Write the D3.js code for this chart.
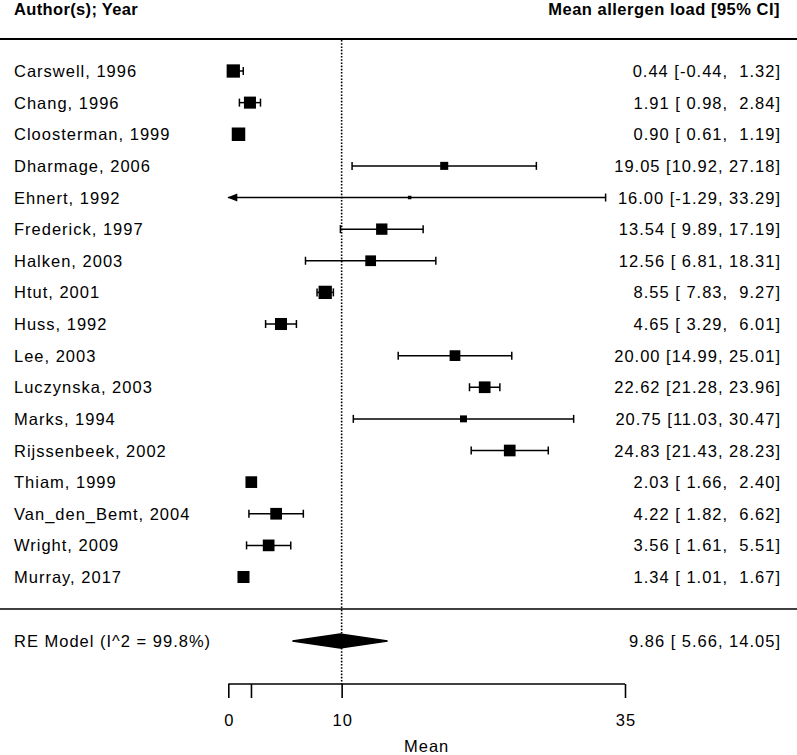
<!DOCTYPE html>
<html><head><meta charset="utf-8">
<script src="https://cdn.jsdelivr.net/npm/d3@7/dist/d3.min.js"></script>
<style>body{margin:0;background:#fff;} svg{display:block;} text{white-space:pre;}</style>
</head><body>
<script>
const studies = ["Carswell, 1996","Chang, 1996","Cloosterman, 1999","Dharmage, 2006","Ehnert, 1992","Frederick, 1997","Halken, 2003","Htut, 2001","Huss, 1992","Lee, 2003","Luczynska, 2003","Marks, 1994","Rijssenbeek, 2002","Thiam, 1999","Van_den_Bemt, 2004","Wright, 2009","Murray, 2017"];
const means = [0.44,1.91,0.90,19.05,16.00,13.54,12.56,8.55,4.65,20.00,22.62,20.75,24.83,2.03,4.22,3.56,1.34];
const lower = [-0.44,0.98,0.61,10.92,-1.29,9.89,6.81,7.83,3.29,14.99,21.28,11.03,21.43,1.66,1.82,1.61,1.01];
const upper = [1.32,2.84,1.19,27.18,33.29,17.19,18.31,9.27,6.01,25.01,23.96,30.47,28.23,2.40,6.62,5.51,1.67];
const weights = [6.6,5.4,6.8,2.4,0.46,4.8,4.3,6.6,5.4,4.3,5.1,1.8,5.1,5.1,5.1,5.1,5.4];
const reModel = {label:"RE Model (I^2 = 99.8%)", est:9.86, lb:5.66, ub:14.05};
const tickValues = [0,2,10,35];
const tickLabels = ["0","","10","35"];
const refValue = 10;
const headerLeft = "Author(s); Year";
const headerRight = "Mean allergen load [95% CI]";
const axisTitle = "Mean";

const W = 797, H = 755;
const svg = d3.select("body").append("svg").attr("width",W).attr("height",H);
const x = d3.scaleLinear().domain([0,35]).range([228.3,625]);
const y = d3.scalePoint().domain(d3.range(studies.length)).range([71,577]);
const sz = d3.scaleSqrt().domain([0,6.6]).range([0,13.3]);
const yRE = 641, yAxis = 684;
const font = "'Liberation Sans', Arial, sans-serif";
const fmt = v => v.toFixed(2);
const pad = v => { const s = fmt(v); return s.length < 5 ? " " + s : s; };
const ciText = (m,l,u) => `${fmt(m)} [${pad(l)}, ${pad(u)}]`;

// header
svg.append("text").attr("x",14).attr("y",15).attr("font-family",font).attr("font-weight","bold")
  .attr("font-size",16.5).attr("letter-spacing",0.35).text(headerLeft);
svg.append("text").attr("x",780).attr("y",15).attr("text-anchor","end").attr("font-family",font).attr("font-weight","bold")
  .attr("font-size",16.5).attr("letter-spacing",0.5).text(headerRight);
svg.append("line").attr("x1",0).attr("x2",W).attr("y1",39).attr("y2",39).attr("stroke","#000").attr("stroke-width",2);
svg.append("line").attr("x1",0).attr("x2",W).attr("y1",609).attr("y2",609).attr("stroke","#000").attr("stroke-width",1.6);

// reference line
svg.append("line").attr("x1",x(refValue)).attr("x2",x(refValue)).attr("y1",40).attr("y2",yAxis)
  .attr("stroke","#000").attr("stroke-width",1.6).attr("stroke-dasharray","1.6,1.6");

const rows = svg.append("g");
const lo = x.domain()[0], hi = x.domain()[1];
studies.forEach((s,i) => {
  const yy = y(i);
  rows.append("text").attr("x",14).attr("y",yy+6).attr("font-family",font).attr("font-size",16.5)
    .attr("letter-spacing",1).text(s);
  rows.append("text").attr("x",781).attr("y",yy+6).attr("text-anchor","end").attr("font-family",font)
    .attr("font-size",16.5).attr("letter-spacing",1).text(ciText(means[i],lower[i],upper[i]));
  const l = Math.max(lower[i],lo), u = Math.min(upper[i],hi);
  rows.append("line").attr("x1",x(l)).attr("x2",x(u)).attr("y1",yy).attr("y2",yy).attr("stroke","#000").attr("stroke-width",1.5);
  if (lower[i] < lo) {
    rows.append("path").attr("d",`M${x(lo)-1},${yy}L${x(lo)+9},${yy-4}L${x(lo)+9},${yy+4}Z`).attr("fill","#000");
  } else {
    rows.append("line").attr("x1",x(l)).attr("x2",x(l)).attr("y1",yy-4).attr("y2",yy+4).attr("stroke","#000").attr("stroke-width",1.5);
  }
  rows.append("line").attr("x1",x(u)).attr("x2",x(u)).attr("y1",yy-4).attr("y2",yy+4).attr("stroke","#000").attr("stroke-width",1.5);
  const s2 = sz(weights[i]);
  rows.append("rect").attr("x",x(means[i])-s2/2).attr("y",yy-s2/2).attr("width",s2).attr("height",s2).attr("fill","#000");
});

// RE model
svg.append("text").attr("x",14).attr("y",yRE+6).attr("font-family",font).attr("font-size",16.5)
  .attr("letter-spacing",1).text(reModel.label);
svg.append("text").attr("x",781).attr("y",yRE+6).attr("text-anchor","end").attr("font-family",font)
  .attr("font-size",16.5).attr("letter-spacing",1).text(ciText(reModel.est,reModel.lb,reModel.ub));
svg.append("path").attr("d",`M${x(reModel.lb)},${yRE}L${x(reModel.est)},${yRE-7}L${x(reModel.ub)},${yRE}L${x(reModel.est)},${yRE+7}Z`)
  .attr("fill","#000").attr("stroke","#000").attr("stroke-width",1.5);

// axis
const ax = svg.append("g").attr("transform",`translate(0,${yAxis})`)
  .call(d3.axisBottom(x).tickValues(tickValues).tickSize(14).tickSizeOuter(0).tickFormat((d,i)=>tickLabels[i]));
ax.select(".domain").attr("stroke-width",1.6).attr("d",`M${x(0)},0H${x(35)}`);
ax.selectAll(".tick line").attr("stroke-width",1.6);
ax.selectAll(".tick text").attr("font-family",font).attr("font-size",16.5).attr("letter-spacing",1)
  .attr("fill","#000").attr("y",42).attr("dy",0).attr("dx",0.5);
svg.append("text").attr("x",(x(0)+x(35))/2).attr("y",752).attr("text-anchor","middle").attr("font-family",font)
  .attr("font-size",16.5).attr("letter-spacing",1).text(axisTitle);
</script>
</body></html>
